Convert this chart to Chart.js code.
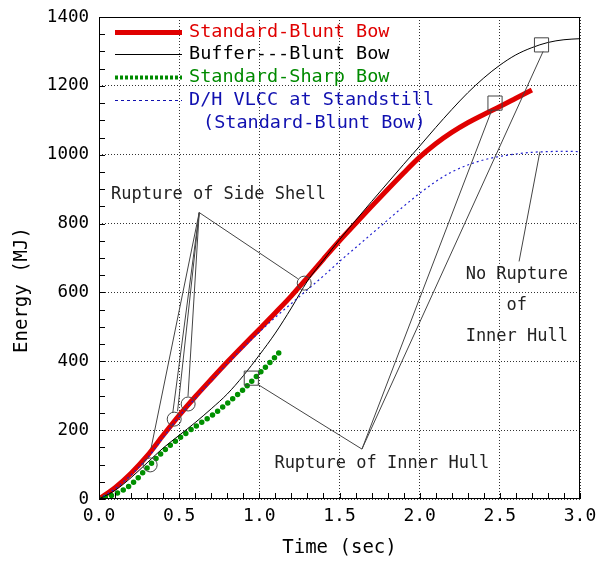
<!DOCTYPE html>
<html>
<head>
<meta charset="utf-8">
<script src="https://cdn.jsdelivr.net/npm/chart.js@4.4.0/dist/chart.umd.min.js"></script>
<style>
  body { margin: 0; background: #fff; }
  #wrap { width: 597px; height: 562px; }
</style>
</head>
<body>
<div id="wrap"><canvas id="energyChart" width="597" height="562"></canvas></div>
<script>
const MONO = '"DejaVu Sans Mono", "Liberation Mono", monospace';

// Standard-Blunt Bow
const timeStdBlunt = [0, 0.1, 0.2, 0.3, 0.4, 0.5, 0.6, 0.7, 0.8, 0.9, 1.0, 1.1, 1.2, 1.3, 1.4,
  1.5, 1.6, 1.7, 1.8, 1.9, 2.0, 2.1, 2.2, 2.3, 2.4, 2.5, 2.6, 2.7];
const energyStdBlunt = [0, 33, 75, 125, 185, 243, 297, 348, 398, 446, 493, 541, 590, 643, 697,
  750, 800, 850, 899, 947, 993, 1032, 1065, 1093, 1117, 1140, 1164, 1188];

// Buffer---Blunt Bow
const timeBuffer = [0, 0.1, 0.2, 0.3, 0.4, 0.5, 0.6, 0.7, 0.8, 0.9, 1.0, 1.1, 1.2, 1.3, 1.4, 1.5,
  1.6, 1.7, 1.8, 1.9, 2.0, 2.1, 2.2, 2.3, 2.4, 2.5, 2.6, 2.7, 2.8, 2.9, 3.0];
const energyBuffer = [0, 25, 62, 105, 148, 185, 222, 262, 305, 358, 418, 482, 555, 633, 694, 753,
  809, 864, 918, 972, 1025, 1079, 1131, 1180, 1223, 1260, 1290, 1311, 1326, 1334, 1337];

// Standard-Sharp Bow
const timeStdSharp = [0, 0.1, 0.2, 0.3, 0.4, 0.5, 0.6, 0.7, 0.8, 0.9, 1.0, 1.1, 1.14];
const energyStdSharp = [0, 14, 42, 90, 138, 176, 210, 241, 278, 318, 365, 413, 435];

// D/H VLCC at Standstill (Standard-Blunt Bow)
const timeStandstill = [0, 0.1, 0.2, 0.3, 0.4, 0.5, 0.6, 0.7, 0.8, 0.9, 1.0, 1.1, 1.2, 1.3, 1.4, 1.5,
  1.6, 1.7, 1.8, 1.9, 2.0, 2.1, 2.2, 2.3, 2.4, 2.5, 2.6, 2.7, 2.8, 2.9, 3.0];
const energyStandstill = [0, 30, 70, 118, 178, 240, 292, 343, 393, 440, 485, 528, 568, 608, 648, 690,
  730, 770, 810, 850, 888, 922, 950, 970, 985, 995, 1002, 1007, 1009, 1010, 1009];

// rupture markers
const circleTimes = [0.319, 0.469, 0.556, 1.28];
const circleEnergies = [99, 232, 276, 627];
const squareTimes = [0.95, 2.47, 2.76];
const squareEnergies = [351, 1150, 1319];

// leader lines (apex -> marker)
const sideShellApex = [0.625, 832];
const sideShellEndTimes = [0.325, 0.46, 0.49, 0.555, 1.24];
const sideShellEndEnergies = [148, 250, 255, 298, 640];
const innerHullApex = [1.64, 145];
const innerHullEndTimes = [0.99, 2.45, 2.77];
const innerHullEndEnergies = [333, 1130, 1300];
const noRuptureLine = [[2.62, 690], [2.75, 1009]];

// tick labels
const xTickValues = [0, 0.5, 1.0, 1.5, 2.0, 2.5, 3.0];
const yTickValues = [0, 200, 400, 600, 800, 1000, 1200, 1400];

function pts(ts, es) {
  return ts.map((t, i) => ({ x: t, y: es[i] }));
}

function leader(from, to) {
  return {
    data: [{ x: from[0], y: from[1] }, { x: to[0], y: to[1] }],
    showLine: true, borderColor: '#444', borderWidth: 1, pointRadius: 0, order: 0
  };
}

const leaderSets = [];
sideShellEndTimes.forEach((t, i) => leaderSets.push(leader(sideShellApex, [t, sideShellEndEnergies[i]])));
innerHullEndTimes.forEach((t, i) => leaderSets.push(leader(innerHullApex, [t, innerHullEndEnergies[i]])));
leaderSets.push(leader(noRuptureLine[0], noRuptureLine[1]));

const frameAndLabels = {
  id: 'frameAndLabels',
  afterDraw(chart) {
    const ctx = chart.ctx;
    const a = chart.chartArea;
    const xs = chart.scales.x;
    const ys = chart.scales.y;
    ctx.save();

    // inward minor ticks
    ctx.strokeStyle = '#000';
    ctx.lineWidth = 1;
    ctx.beginPath();
    for (let i = 0; i <= 30; i++) {
      const px = Math.round(xs.getPixelForValue(i / 10)) + 0.5;
      ctx.moveTo(px, a.bottom);
      ctx.lineTo(px, a.bottom - 6);
    }
    for (let i = 0; i <= 28; i++) {
      const py = Math.round(ys.getPixelForValue(i * 50)) + 0.5;
      ctx.moveTo(a.left, py);
      ctx.lineTo(a.left + 6, py);
    }
    ctx.stroke();

    // frame
    ctx.strokeRect(Math.round(a.left) + 0.5, Math.round(a.top) + 0.5,
      Math.round(a.right - a.left) - 1, Math.round(a.bottom - a.top) - 1);

    // axis titles
    ctx.fillStyle = '#000';
    ctx.font = '19px ' + MONO;
    ctx.textAlign = 'center';
    ctx.textBaseline = 'middle';
    ctx.fillText('Time (sec)', (a.left + a.right) / 2, 548);
    ctx.save();
    ctx.translate(22, 290);
    ctx.rotate(-Math.PI / 2);
    ctx.fillText('Energy (MJ)', 0, 0);
    ctx.restore();

    // legend
    const legend = [
      { text: 'Standard-Blunt Bow', color: '#e00000', w: 5, dash: [] },
      { text: 'Buffer---Blunt Bow', color: '#000', w: 1, dash: [] },
      { text: 'Standard-Sharp Bow', color: '#008a00', w: 4, dash: [3, 2] },
      { text: 'D/H VLCC at Standstill', color: '#1010b0', w: 1, dash: [3, 3] }
    ];
    const rowsY = [32, 54, 77, 100];
    ctx.font = '18.5px ' + MONO;
    ctx.textAlign = 'left';
    legend.forEach((item, i) => {
      ctx.beginPath();
      ctx.strokeStyle = item.color;
      ctx.lineWidth = item.w;
      ctx.setLineDash(item.dash);
      ctx.moveTo(115, rowsY[i] + 0.5);
      ctx.lineTo(182, rowsY[i] + 0.5);
      ctx.stroke();
      ctx.fillStyle = item.color;
      ctx.fillText(item.text, 189, rowsY[i]);
    });
    ctx.setLineDash([]);
    ctx.fillStyle = '#1010b0';
    ctx.fillText('(Standard-Blunt Bow)', 203, 123);

    // annotation texts
    ctx.fillStyle = '#222';
    ctx.font = '17px ' + MONO;
    ctx.fillText('Rupture of Side Shell', xs.getPixelForValue(0.075), ys.getPixelForValue(883));
    ctx.fillText('Rupture of Inner Hull', xs.getPixelForValue(1.094), ys.getPixelForValue(102));
    ctx.textAlign = 'center';
    const cx = xs.getPixelForValue(2.606);
    ctx.fillText('No Rupture', cx, ys.getPixelForValue(651));
    ctx.fillText('of', cx, ys.getPixelForValue(561));
    ctx.fillText('Inner Hull', cx, ys.getPixelForValue(473));

    ctx.restore();
  }
};

new Chart(document.getElementById('energyChart'), {
  type: 'scatter',
  data: {
    datasets: [
      ...leaderSets,
      {
        label: 'circles', data: pts(circleTimes, circleEnergies), order: 0,
        pointStyle: 'circle', pointRadius: 7, borderColor: '#444', borderWidth: 1,
        backgroundColor: 'rgba(0,0,0,0)'
      },
      {
        label: 'squares', data: pts(squareTimes, squareEnergies), order: 0,
        pointStyle: 'rect', pointRadius: 10, borderColor: '#444', borderWidth: 1,
        backgroundColor: 'rgba(0,0,0,0)'
      },
      {
        label: 'D/H VLCC at Standstill', data: pts(timeStandstill, energyStandstill), order: 1,
        showLine: true, borderColor: '#2020d0', borderWidth: 1.2, borderDash: [2, 3],
        pointRadius: 0, cubicInterpolationMode: 'monotone'
      },
      {
        label: 'Buffer---Blunt Bow', data: pts(timeBuffer, energyBuffer), order: 2,
        showLine: true, borderColor: '#000', borderWidth: 1, pointRadius: 0,
        cubicInterpolationMode: 'monotone'
      },
      {
        label: 'Standard-Sharp Bow', data: pts(timeStdSharp, energyStdSharp), order: 3,
        showLine: true, borderColor: '#009000', borderWidth: 5.5, borderDash: [0, 6.5],
        borderCapStyle: 'round', pointRadius: 0, cubicInterpolationMode: 'monotone'
      },
      {
        label: 'Standard-Blunt Bow', data: pts(timeStdBlunt, energyStdBlunt), order: 4,
        showLine: true, borderColor: '#e00000', borderWidth: 5, pointRadius: 0,
        cubicInterpolationMode: 'monotone'
      }
    ]
  },
  options: {
    responsive: false,
    devicePixelRatio: 1,
    animation: false,
    layout: { padding: { left: 0, right: 17, top: 17, bottom: 0 } },
    plugins: { legend: { display: false }, tooltip: { enabled: false } },
    scales: {
      x: {
        type: 'linear', min: 0, max: 3,
        afterFit(scale) {
          scale.height = 63;
          scale.paddingLeft = 0;
          scale.paddingRight = 0;
        },
        afterBuildTicks(scale) { scale.ticks = xTickValues.map(v => ({ value: v })); },
        grid: { color: '#333', drawTicks: false },
        border: { display: false, dash: [1, 2] },
        ticks: {
          color: '#000', padding: 7, maxRotation: 0,
          font: { family: MONO, size: 18 },
          callback: v => v.toFixed(1)
        }
      },
      y: {
        type: 'linear', min: 0, max: 1400,
        afterFit(scale) {
          scale.width = 99;
          scale.paddingTop = 0;
          scale.paddingBottom = 0;
        },
        afterBuildTicks(scale) { scale.ticks = yTickValues.map(v => ({ value: v })); },
        grid: { color: '#333', drawTicks: false },
        border: { display: false, dash: [1, 2] },
        ticks: {
          color: '#000', padding: 10,
          font: { family: MONO, size: 17.5 },
          callback: v => String(v)
        }
      }
    }
  },
  plugins: [frameAndLabels]
});
</script>
</body>
</html>
